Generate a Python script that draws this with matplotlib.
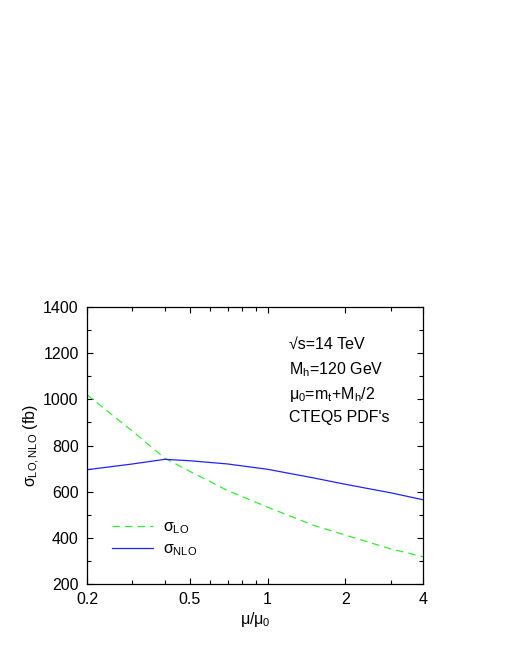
import numpy as np
import matplotlib
matplotlib.use("Agg")
import matplotlib.pyplot as plt
from matplotlib.ticker import FixedLocator, NullFormatter

plt.rcParams['font.family'] = ['Liberation Sans', 'DejaVu Sans']
plt.rcParams['mathtext.fontset'] = 'custom'
plt.rcParams['mathtext.rm'] = 'Liberation Sans'
plt.rcParams['mathtext.it'] = 'Liberation Sans'
plt.rcParams['mathtext.sf'] = 'Liberation Sans'

# scale ratio mu/mu0
mu = [0.2, 0.3, 0.4, 0.5, 0.7, 1.0, 1.5, 2.0, 3.0, 4.0]
# cross sections (fb)
sigma_lo = [1020, 862, 745, 688, 605, 533, 455, 412, 352, 318]
sigma_nlo = [695, 720, 740, 734, 720, 697, 660, 632, 595, 565]

xticks = [0.2, 0.5, 1, 2, 4]
xtick_labels = ['0.2', '0.5', '1', '2', '4']
xminor = [0.3, 0.4, 0.6, 0.7, 0.8, 0.9, 3]

info_lines = [
    '\u221as=14 TeV',
    'M$_{\\rm h}$=120 GeV',
    '$\\mu_0$=m$_{\\rm t}$+M$_{\\rm h}$/2',
    'CTEQ5 PDF\'s',
]

fig = plt.figure(figsize=(5.1, 6.6), dpi=100)
ax = fig.add_axes([0.1706, 0.1152, 0.6588, 0.4196])

ax.plot(mu, sigma_lo, color='#33ee33', lw=0.9, ls=(0, (6, 4)), label='$\\sigma_{\\rm LO}$')
ax.plot(mu, sigma_nlo, color='#2222ff', lw=0.9, label='$\\sigma_{\\rm NLO}$')

ax.set_xscale('log')
ax.set_xlim(0.2, 4)
ax.set_ylim(200, 1400)
ax.xaxis.set_major_locator(FixedLocator(xticks))
ax.set_xticklabels(xtick_labels)
ax.xaxis.set_minor_locator(FixedLocator(xminor))
ax.xaxis.set_minor_formatter(NullFormatter())
ax.set_yticks(np.arange(200, 1401, 200))
ax.set_yticks(np.arange(300, 1400, 200), minor=True)

ax.tick_params(which='both', direction='in', top=True, right=True,
               labelsize=11.5, width=0.8, pad=6)
ax.tick_params(which='major', length=4)
ax.tick_params(which='minor', length=3)
for s in ax.spines.values():
    s.set_linewidth(0.9)

ax.set_xlabel('$\\mu/\\mu_0$', fontsize=11.5, labelpad=2)
ax.set_ylabel('$\\sigma_{\\rm LO,NLO}$ (fb)', fontsize=11.5, labelpad=1)

ys = [0.866, 0.775, 0.685, 0.600]
for t, y in zip(info_lines, ys):
    ax.text(0.600, y, t, transform=ax.transAxes, fontsize=11.5,
            ha='left', va='center')

ax.legend(loc='lower left', bbox_to_anchor=(0.055, 0.07), frameon=False,
          fontsize=11.5, handlelength=2.6, handletextpad=0.6,
          labelspacing=0.35, borderaxespad=0)

fig.savefig('out.png', dpi=100)
